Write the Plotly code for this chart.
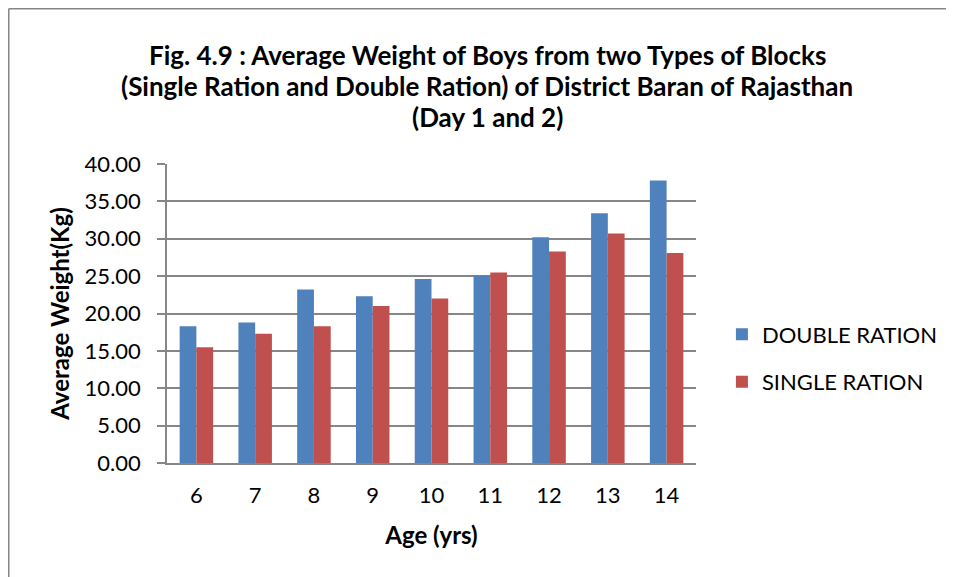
import plotly.graph_objects as go

ages = ["6", "7", "8", "9", "10", "11", "12", "13", "14"]
double_ration = [18.3, 18.8, 23.2, 22.3, 24.6, 25.1, 30.2, 33.4, 37.8]
single_ration = [15.5, 17.3, 18.3, 21.0, 22.0, 25.5, 28.3, 30.7, 28.1]
title_lines = [
    "Fig. 4.9 : Average Weight of Boys from two Types of Blocks",
    "(Single Ration and Double Ration) of District Baran of Rajasthan",
    "(Day 1 and 2)",
]

FONT = "Lato"
W, H = 946, 569          # page adds an 8px body margin
L, T = 159, 156
PW, PH = 529, 299

fig = go.Figure()
fig.add_trace(go.Bar(x=ages, y=double_ration, name="DOUBLE RATION",
                     marker=dict(color="#4F81BD", line=dict(width=0)),
                     legendgroup="a"))
fig.add_trace(go.Bar(x=ages, y=single_ration, name="SINGLE RATION",
                     marker=dict(color="#C0504D", line=dict(width=0)),
                     legendgroup="b"))

fig.update_layout(
    width=W, height=H,
    margin=dict(l=L, r=W - L - PW, t=T, b=H - T - PH, autoexpand=False),
    paper_bgcolor="white", plot_bgcolor="white",
    font=dict(family=FONT, size=22, color="black"),
    barmode="group", bargap=0.43, bargroupgap=0,
    xaxis=dict(
        showline=True, linecolor="#868686", linewidth=1.5,
        ticks="", tickfont=dict(size=22), ticklabelstandoff=12,
        title=dict(text="<b>Age (yrs)</b>", font=dict(size=24), standoff=20),
    ),
    yaxis=dict(
        range=[0, 40], dtick=5, tickformat=".2f",
        showline=True, linecolor="#868686", linewidth=1.5,
        ticks="outside", ticklen=8, tickcolor="#868686", tickwidth=1.5,
        showgrid=True, gridcolor="#868686", gridwidth=1.5,
        tickfont=dict(size=22), ticklabelstandoff=12,
        title=dict(text="<b>Average Weight(Kg)</b>", font=dict(size=24), standoff=8),
        zeroline=False,
    ),
    legend=dict(
        x=1.049, xanchor="left", y=0.35, yanchor="middle",
        font=dict(size=22), traceorder="grouped", tracegroupgap=16,
        itemwidth=30,
    ),
)

# Title as three centred lines (figure-pixel centres 47, 78, 109)
for i, line in enumerate(title_lines):
    yfig = 47 + 31 * i
    fig.add_annotation(
        text=f"<b>{line}</b>", showarrow=False,
        xref="paper", yref="paper",
        x=(479 - L) / PW, y=1 + (T - yfig) / PH,
        xanchor="center", yanchor="middle",
        font=dict(family=FONT, size=26, color="black"),
    )

# Outer chart frame (left and top edges only)
fig.add_shape(type="line", xref="paper", yref="paper",
              x0=-(L - 0.75) / PW, x1=-(L - 0.75) / PW,
              y0=(PH + T - 0.75) / PH, y1=-(H - T - PH) / PH,
              line=dict(color="#868686", width=1.5))
fig.add_shape(type="line", xref="paper", yref="paper",
              x0=-(L - 0.75) / PW, x1=(W - L) / PW,
              y0=(PH + T - 0.75) / PH, y1=(PH + T - 0.75) / PH,
              line=dict(color="#868686", width=1.5))

fig.write_html("out.html")
